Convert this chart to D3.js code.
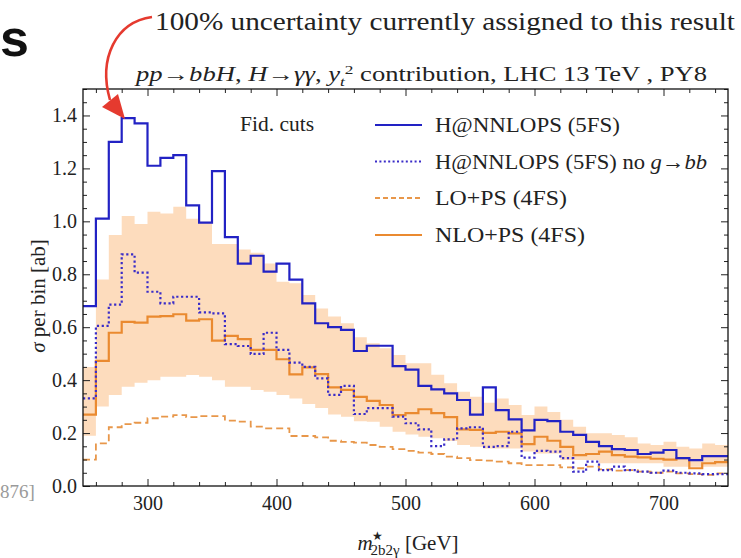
<!DOCTYPE html>
<html><head><meta charset="utf-8">
<script src="https://cdn.jsdelivr.net/npm/d3@7"></script>
<style>
html,body{margin:0;padding:0;background:#fff;}
svg{display:block;}
text{font-family:"Liberation Serif","DejaVu Serif",serif;fill:#222;}
</style>
</head><body>
<svg id="c" width="741" height="558"></svg>
<script>
// ---- data ----
const binStarts = [250,260,270,280,290,300,310,320,330,340,350,360,370,380,390,400,410,420,430,440,
  450,460,470,480,490,500,510,520,530,540,550,560,570,580,590,600,610,620,630,640,
  650,660,670,680,690,700,710,720,730,740];
const binEnd = 750;
const nnlops = [0.68,1.01,1.30,1.39,1.37,1.21,1.24,1.25,1.06,0.995,1.19,0.94,0.84,0.87,0.81,0.84,0.78,0.69,0.615,0.60,
  0.59,0.51,0.53,0.53,0.453,0.44,0.378,0.365,0.35,0.325,0.27,0.373,0.287,0.252,0.21,0.25,0.245,0.205,0.193,0.167,
  0.151,0.139,0.136,0.121,0.126,0.136,0.105,0.098,0.113,0.113];
const nnlopsNoGbb = [0.331,0.605,0.685,0.875,0.806,0.734,0.69,0.715,0.715,0.656,0.652,0.536,0.529,0.499,0.579,0.514,0.466,0.45,0.407,0.344,
  0.378,0.272,0.294,0.294,0.262,0.237,0.214,0.151,0.176,0.218,0.222,0.148,0.151,0.205,0.107,0.133,0.13,0.105,0.054,0.092,
  0.06,0.073,0.06,0.054,0.05,0.058,0.05,0.048,0.045,0.045];
const loPS = [0.10,0.161,0.222,0.234,0.239,0.256,0.262,0.268,0.26,0.264,0.264,0.247,0.243,0.224,0.218,0.218,0.189,0.189,0.184,0.171,
  0.167,0.164,0.155,0.148,0.139,0.133,0.126,0.121,0.111,0.105,0.098,0.096,0.092,0.086,0.079,0.079,0.079,0.07,0.067,0.073,
  0.063,0.058,0.06,0.054,0.05,0.054,0.048,0.045,0.042,0.048];
const nloPS = [0.27,0.473,0.579,0.62,0.617,0.64,0.642,0.649,0.625,0.63,0.549,0.567,0.555,0.514,0.514,0.479,0.422,0.448,0.423,0.373,
  0.363,0.337,0.322,0.306,0.268,0.275,0.29,0.275,0.26,0.214,0.212,0.201,0.205,0.199,0.158,0.186,0.171,0.148,0.117,0.121,
  0.13,0.117,0.111,0.108,0.103,0.10,0.105,0.067,0.086,0.09];
const bandUpper = [0.45,0.78,0.948,1.02,0.99,1.036,1.03,1.055,1.01,0.998,0.914,0.914,0.894,0.881,0.841,0.772,0.766,0.722,0.671,0.64,
  0.615,0.562,0.539,0.52,0.495,0.464,0.464,0.42,0.388,0.356,0.337,0.315,0.331,0.306,0.268,0.30,0.28,0.25,0.224,0.199,
  0.199,0.193,0.184,0.161,0.155,0.167,0.148,0.142,0.161,0.155];
const bandLower = [0.19,0.30,0.344,0.375,0.39,0.40,0.413,0.413,0.419,0.413,0.40,0.375,0.375,0.363,0.356,0.344,0.331,0.31,0.295,0.27,
  0.262,0.245,0.243,0.224,0.205,0.195,0.186,0.18,0.17,0.155,0.148,0.142,0.142,0.142,0.13,0.123,0.123,0.098,0.098,0.098,
  0.086,0.086,0.086,0.086,0.086,0.073,0.073,0.073,0.073,0.073];
const xMajorTicks = [300,400,500,600,700];
const yMajorTicks = [0.0,0.2,0.4,0.6,0.8,1.0,1.2,1.4];
const legendLabels = ["H@NNLOPS (5FS)","H@NNLOPS (5FS) no ","LO+PS (4FS)","NLO+PS (4FS)"];

// ---- layout ----
const svg = d3.select("#c");
const L = 83, R = 728, T = 89, B = 486;
const x = d3.scaleLinear().domain([250, 750]).range([L, R]);
const y = d3.scaleLinear().domain([0, 1.5]).range([B, T]);

const BLUE = "#2222c4", BLUE_DOT = "#3a2cc8", ORANGE = "#ea8a30", ORANGE_D = "#e8974a", BAND = "#fddcbd";

function stepPts(vals){
  const p = binStarts.map((b,i)=>[b, vals[i]]);
  p.push([binEnd, vals[vals.length-1]]);
  return p;
}
const line = d3.line().x(d=>x(d[0])).y(d=>y(d[1])).curve(d3.curveStepAfter);

// band
const bandPts = binStarts.map((b,i)=>({x:b, lo:bandLower[i], hi:bandUpper[i]}));
bandPts.push({x:binEnd, lo:bandLower[bandLower.length-1], hi:bandUpper[bandUpper.length-1]});
const area = d3.area().x(d=>x(d.x)).y0(d=>y(d.lo)).y1(d=>y(d.hi)).curve(d3.curveStepAfter);
svg.append("clipPath").attr("id","pc").append("rect").attr("x",L).attr("y",T).attr("width",R-L).attr("height",B-T);
const plot = svg.append("g").attr("clip-path","url(#pc)");
plot.append("path").datum(bandPts).attr("d",area).attr("fill",BAND);

plot.append("path").datum(stepPts(loPS)).attr("d",line).attr("fill","none")
  .attr("stroke",ORANGE_D).attr("stroke-width",1.8).attr("stroke-dasharray","7,4");
plot.append("path").datum(stepPts(nloPS)).attr("d",line).attr("fill","none")
  .attr("stroke",ORANGE).attr("stroke-width",2.2);
plot.append("path").datum(stepPts(nnlopsNoGbb)).attr("d",line).attr("fill","none")
  .attr("stroke",BLUE_DOT).attr("stroke-width",2.2).attr("stroke-dasharray","2.2,2.6");
plot.append("path").datum(stepPts(nnlops)).attr("d",line).attr("fill","none")
  .attr("stroke",BLUE).attr("stroke-width",2.2);

// axes (inward ticks)
const xMinor = d3.range(260, 750, 20).filter(v=>!xMajorTicks.includes(v));
const yMinor = d3.range(0, 1.5001, 0.05).filter(v=>Math.abs(Math.round(v*5)-v*5)>1e-6);
function styleAx(g){
  g.attr("font-family",null);
  g.select(".domain").remove();
  g.selectAll("line").attr("stroke","#222");
  g.selectAll("text").attr("font-size",20).style("font-family",'"Liberation Serif",serif').attr("fill","#222");
}
svg.append("g").attr("transform",`translate(0,${B})`).call(d3.axisBottom(x).tickValues(xMajorTicks).tickSize(-7).tickPadding(10).tickFormat(d3.format("d"))).call(styleAx);
svg.append("g").attr("transform",`translate(0,${B})`).call(d3.axisBottom(x).tickValues(xMinor).tickSize(-4).tickFormat("")).call(styleAx);
svg.append("g").attr("transform",`translate(0,${T})`).call(d3.axisTop(x).tickValues(xMajorTicks).tickSize(-7).tickFormat("")).call(styleAx);
svg.append("g").attr("transform",`translate(0,${T})`).call(d3.axisTop(x).tickValues(xMinor).tickSize(-4).tickFormat("")).call(styleAx);
svg.append("g").attr("transform",`translate(${L},0)`).call(d3.axisLeft(y).tickValues(yMajorTicks).tickSize(-7).tickPadding(6).tickFormat(d3.format(".1f"))).call(styleAx);
svg.append("g").attr("transform",`translate(${L},0)`).call(d3.axisLeft(y).tickValues(yMinor).tickSize(-4).tickFormat("")).call(styleAx);
svg.append("g").attr("transform",`translate(${R},0)`).call(d3.axisRight(y).tickValues(yMajorTicks).tickSize(-7).tickFormat("")).call(styleAx);
svg.append("g").attr("transform",`translate(${R},0)`).call(d3.axisRight(y).tickValues(yMinor).tickSize(-4).tickFormat("")).call(styleAx);

svg.append("rect").attr("x",L).attr("y",T).attr("width",R-L).attr("height",B-T)
  .attr("fill","none").attr("stroke","#111").attr("stroke-width",1.3);

// Fid. cuts
svg.append("text").attr("x",240).attr("y",131).attr("font-size",20).attr("textLength",74)
  .attr("lengthAdjust","spacingAndGlyphs").text("Fid. cuts");

// legend
const legY = [125, 161.5, 198, 235];
const legW = [185, 272, 132, 150];
const legStyles = [
  {c:BLUE, dash:null, w:2},
  {c:BLUE_DOT, dash:"2,2.4", w:2},
  {c:ORANGE_D, dash:"5,3", w:1.8},
  {c:ORANGE, dash:null, w:2}];
legendLabels.forEach((lab,i)=>{
  svg.append("line").attr("x1",375).attr("x2",422).attr("y1",legY[i]).attr("y2",legY[i])
    .attr("stroke",legStyles[i].c).attr("stroke-width",legStyles[i].w)
    .attr("stroke-dasharray",legStyles[i].dash);
  const t = svg.append("text").attr("x",435).attr("y",legY[i]+7).attr("font-size",21)
    .attr("textLength",legW[i]).attr("lengthAdjust","spacingAndGlyphs").text(lab);
  if(i===1){ t.append("tspan").attr("font-style","italic").text("g"); t.append("tspan").text("\u2192"); t.append("tspan").attr("font-style","italic").text("bb"); }
});

// title
const title = svg.append("text").attr("x",136).attr("y",81).attr("font-size",20)
  .attr("textLength",571).attr("lengthAdjust","spacingAndGlyphs");
title.append("tspan").attr("font-style","italic").text("pp");
title.append("tspan").text("\u2192");
title.append("tspan").attr("font-style","italic").text("bbH");
title.append("tspan").text(", ");
title.append("tspan").attr("font-style","italic").text("H");
title.append("tspan").text("\u2192");
title.append("tspan").attr("font-style","italic").text("\u03b3\u03b3");
title.append("tspan").text(", ");
title.append("tspan").attr("font-style","italic").text("y");
title.append("tspan").attr("font-size",13).attr("font-style","italic").attr("dy",5).text("t");
title.append("tspan").attr("font-size",13).attr("dy",-12).text("2");
title.append("tspan").attr("dy",7).text(" contribution, LHC 13\u2009TeV , PY8");

// annotation
svg.append("text").attr("x",155).attr("y",30).attr("font-size",25).attr("textLength",580)
  .attr("lengthAdjust","spacingAndGlyphs").text("100% uncertainty currently assigned to this result");
svg.append("path").attr("d","M152,17 C116,22 98,58 110,100").attr("fill","none")
  .attr("stroke","#e53a2f").attr("stroke-width",2.6);
svg.append("path").attr("d","M125,119 L102,107 L118,94 Z").attr("fill","#e53a2f");

// bold s and ref
svg.append("text").attr("x",0).attr("y",56).attr("font-size",52).attr("font-weight","bold")
  .style("font-family",'"Liberation Sans",sans-serif').style("fill","#111").text("s");
svg.append("text").attr("x",0).attr("y",498).attr("font-size",19).style("fill","#9a9a9a").text("876]");

// axis labels
svg.append("text").attr("transform","translate(45,296) rotate(-90)").attr("text-anchor","middle")
  .attr("font-size",21).call(t=>{
    t.append("tspan").attr("font-style","italic").text("\u03c3");
    t.append("tspan").text(" per bin [ab]");
  });
const xl = svg.append("text").attr("x",408).attr("y",550).attr("text-anchor","middle").attr("font-size",21);
xl.append("tspan").attr("font-style","italic").text("m");
xl.append("tspan").attr("font-size",12).attr("dy",-10).attr("dx",-1).text("\u2605");
xl.append("tspan").attr("font-size",15).attr("dy",15).attr("dx",-12).text("2b2\u03b3");
xl.append("tspan").attr("dy",-5).text("  [GeV]");
</script>
</body></html>
